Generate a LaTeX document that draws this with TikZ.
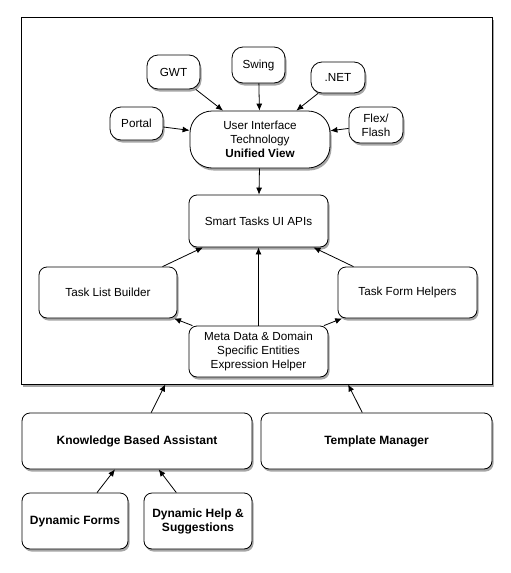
\documentclass[tikz,border=0pt]{standalone}
\usepackage{fontspec}
\setmainfont{Liberation Sans}
\usetikzlibrary{arrows.meta,shadows}
\begin{document}
\begin{tikzpicture}[x=1pt,y=-1pt,
  shade/.style={drop shadow={shadow xshift=1.5pt,shadow yshift=-2.5pt,opacity=0.35,fill=black}},
  box/.style={draw,line width=0.8pt,rounded corners=8pt,fill=white,align=center,
    inner sep=0pt,font=\fontsize{11.7}{14}\selectfont,shade},
  small/.style={box,rounded corners=11pt},
  boldbox/.style={box,font=\fontsize{12}{14}\selectfont\bfseries},
  arr/.style={line width=0.8pt,-{Latex[length=7pt,width=6pt]}}]
\useasboundingbox (0,0) rectangle (511,573);
\node[draw,line width=0.8pt,fill=white,minimum width=471pt,minimum height=367pt,shade] (frame) at (256.5,200.5) {};
\node[small,minimum width=53pt,minimum height=34pt] (gwt) at (173.5,72) {GWT};
\node[small,minimum width=53pt,minimum height=36pt] (swing) at (258.5,65) {Swing};
\node[small,minimum width=54pt,minimum height=31pt] (net) at (338,77.5) {.NET};
\node[small,minimum width=53pt,minimum height=33pt] (portal) at (136.5,123.5) {Portal};
\node[small,minimum width=54pt,minimum height=36pt] (flex) at (376,125) {Flex/\\Flash};
\node[box,rounded corners=22pt,minimum width=140pt,minimum height=57pt] (ui) at (260,139.5) {User Interface\\Technology\\\textbf{Unified View}};
\node[box,minimum width=139pt,minimum height=52pt] (smart) at (258.5,221) {Smart Tasks UI APIs};
\node[box,minimum width=138pt,minimum height=51pt] (tlb) at (108,292.5) {Task List Builder};
\node[box,minimum width=139pt,minimum height=51pt] (tfh) at (407.5,292.5) {Task Form Helpers};
\node[box,minimum width=139pt,minimum height=51pt] (meta) at (258.5,351.5) {Meta Data \& Domain\\Specific Entities\\Expression Helper};
\node[boldbox,minimum width=230pt,minimum height=56pt] (kba) at (137,441) {Knowledge Based Assistant};
\node[boldbox,minimum width=231pt,minimum height=56pt] (tm) at (376.5,441) {Template Manager};
\node[boldbox,minimum width=106pt,minimum height=56pt] (df) at (75,521) {Dynamic Forms};
\node[boldbox,minimum width=108pt,minimum height=56pt] (dh) at (198,521) {Dynamic Help \&\\Suggestions};
\draw[arr] (gwt) -- (ui);
\draw[arr] (swing) -- (ui);
\draw[arr] (net) -- (ui);
\draw[arr] (portal) -- (ui);
\draw[arr] (flex) -- (ui);
\draw[arr] (ui) -- (smart);
\draw[arr] (tlb) -- (smart);
\draw[arr] (meta) -- (smart);
\draw[arr] (tfh) -- (smart);
\draw[arr] (meta) -- (tlb);
\draw[arr] (meta) -- (tfh);
\draw[arr] (kba) -- (frame);
\draw[arr] (tm) -- (frame);
\draw[arr] (df) -- (kba);
\draw[arr] (dh) -- (kba);
\end{tikzpicture}
\end{document}
